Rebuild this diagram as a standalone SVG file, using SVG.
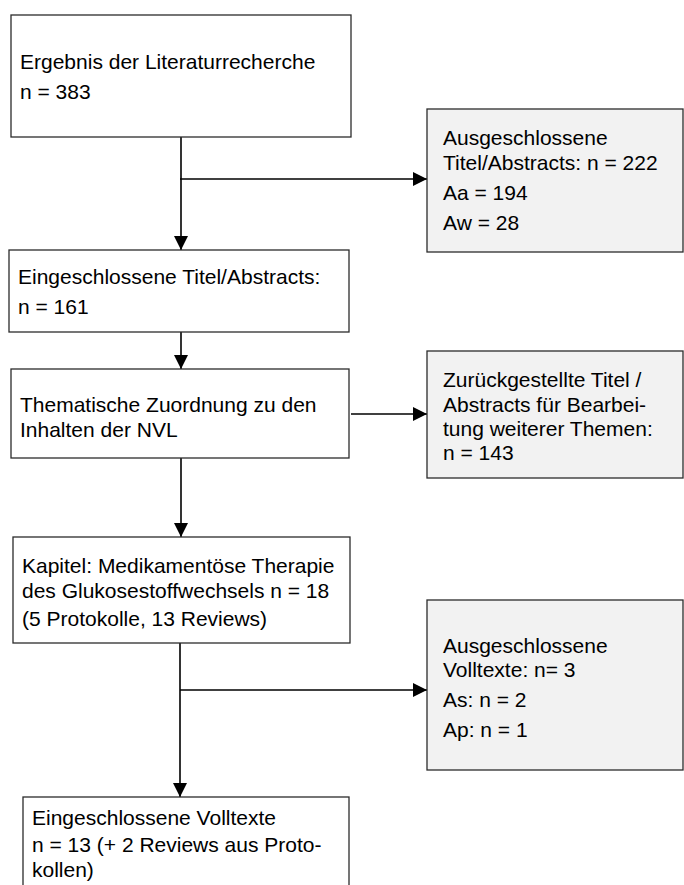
<svg xmlns="http://www.w3.org/2000/svg" width="684" height="885" viewBox="0 0 684 885">
<style>
  .box { fill: #ffffff; stroke: #2b2b2b; stroke-width: 1.3; }
  .gbox { fill: #f2f2f2; stroke: #2b2b2b; stroke-width: 1.3; }
  .t { font-family: "Liberation Sans", Arial, sans-serif; font-size: 21px; fill: #000000; }
  .c { stroke: #000000; stroke-width: 1.6; fill: none; }
</style>
<defs>
  <marker id="arr" viewBox="0 0 14 14" refX="14" refY="7" markerUnits="userSpaceOnUse" markerWidth="14" markerHeight="14" orient="auto">
    <path d="M0,0 L14,7 L0,14 z" fill="#000000"/>
  </marker>
</defs>
<rect width="684" height="885" fill="#ffffff"/>
<g id="connectors">
  <line class="c" x1="181" y1="137" x2="181" y2="250" marker-end="url(#arr)"/>
  <line class="c" x1="180" y1="179" x2="427" y2="179" marker-end="url(#arr)"/>
  <line class="c" x1="181" y1="332" x2="181" y2="369" marker-end="url(#arr)"/>
  <line class="c" x1="351" y1="414" x2="427" y2="414" marker-end="url(#arr)"/>
  <line class="c" x1="181" y1="458" x2="181" y2="537" marker-end="url(#arr)"/>
  <line class="c" x1="180" y1="643" x2="180" y2="797" marker-end="url(#arr)"/>
  <line class="c" x1="180" y1="690" x2="427" y2="690" marker-end="url(#arr)"/>
</g>
<g id="n1">
  <rect class="box" x="11" y="15" width="340" height="122"/>
  <text class="t" x="20" y="69">Ergebnis der Literaturrecherche</text>
  <text class="t" x="20" y="99">n = 383</text>
</g>
<g id="nA">
  <rect class="gbox" x="427" y="109" width="256" height="143"/>
  <text class="t" x="443" y="145">Ausgeschlossene</text>
  <text class="t" x="443" y="170">Titel/Abstracts: n = 222</text>
  <text class="t" x="443" y="200">Aa = 194</text>
  <text class="t" x="443" y="230">Aw = 28</text>
</g>
<g id="n2">
  <rect class="box" x="9" y="250" width="340" height="82"/>
  <text class="t" x="18" y="284">Eingeschlossene Titel/Abstracts:</text>
  <text class="t" x="18" y="314">n = 161</text>
</g>
<g id="n3">
  <rect class="box" x="11" y="369" width="338" height="89"/>
  <text class="t" x="20" y="412">Thematische Zuordnung zu den</text>
  <text class="t" x="20" y="437">Inhalten der NVL</text>
</g>
<g id="nB">
  <rect class="gbox" x="427" y="351" width="256" height="127"/>
  <text class="t" x="443" y="387">Zurückgestellte Titel /</text>
  <text class="t" x="443" y="412">Abstracts für Bearbei-</text>
  <text class="t" x="443" y="436">tung weiterer Themen:</text>
  <text class="t" x="443" y="460">n = 143</text>
</g>
<g id="n4">
  <rect class="box" x="13" y="537" width="337" height="106"/>
  <text class="t" x="22" y="573">Kapitel: Medikamentöse Therapie</text>
  <text class="t" x="22" y="598">des Glukosestoffwechsels n = 18</text>
  <text class="t" x="22" y="626">(5 Protokolle, 13 Reviews)</text>
</g>
<g id="nC">
  <rect class="gbox" x="427" y="600" width="256" height="170"/>
  <text class="t" x="443" y="653">Ausgeschlossene</text>
  <text class="t" x="443" y="677">Volltexte: n= 3</text>
  <text class="t" x="443" y="707">As: n = 2</text>
  <text class="t" x="443" y="737">Ap: n = 1</text>
</g>
<g id="n5">
  <rect class="box" x="23" y="797" width="326" height="100"/>
  <text class="t" x="32" y="825">Eingeschlossene Volltexte</text>
  <text class="t" x="32" y="852">n = 13 (+ 2 Reviews aus Proto-</text>
  <text class="t" x="32" y="877">kollen)</text>
</g>
</svg>
